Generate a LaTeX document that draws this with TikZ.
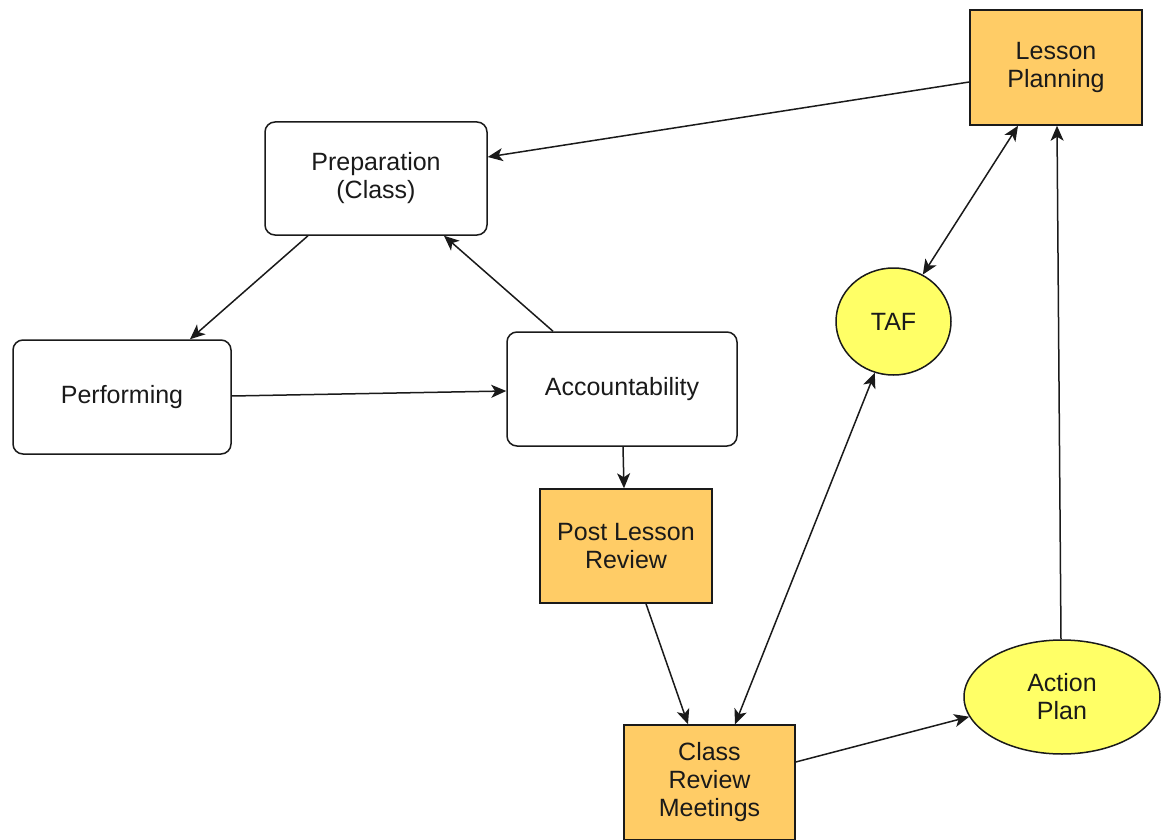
\documentclass[tikz,border=0pt]{standalone}
\usepackage{fontspec}
\setmainfont{Liberation Sans}
\usetikzlibrary{arrows.meta,shapes.geometric}
\definecolor{boxorange}{HTML}{FFCC66}
\definecolor{ovalyellow}{HTML}{FFFF66}
\definecolor{linegrey}{HTML}{1A1A1A}
\tikzset{
  base/.style={draw=linegrey, line width=1.5pt, inner sep=0pt, align=center,
    font=\fontsize{25}{28}\selectfont, text=linegrey},
  roundbox/.style={base, rectangle, rounded corners=10pt, fill=white},
  orangebox/.style={base, rectangle, fill=boxorange},
  yellowoval/.style={base, ellipse, fill=ovalyellow},
  conn/.style={draw=linegrey, line width=1.5pt, -{Stealth[length=15pt,width=13pt,inset=4pt]}},
  dconn/.style={draw=linegrey, line width=1.5pt, {Stealth[length=15pt,width=13pt,inset=4pt]}-{Stealth[length=15pt,width=13pt,inset=4pt]}}
}
\begin{document}
\begin{tikzpicture}[x=1pt,y=-1pt]
\useasboundingbox[fill=white] (0,0) rectangle (1163,840);

\node[orangebox, minimum width=172pt, minimum height=115pt] (lp) at (1056,67.5) {Lesson\\Planning};
\node[roundbox, minimum width=222pt, minimum height=113pt] (prep) at (376,178.5) {Preparation\\(Class)};
\node[roundbox, minimum width=218pt, minimum height=114pt] (perf) at (122,397) {Performing};
\node[roundbox, minimum width=230pt, minimum height=114pt] (acc) at (622,389) {Accountability};
\node[orangebox, minimum width=172pt, minimum height=114pt] (plr) at (626,546) {Post Lesson\\Review};
\node[orangebox, minimum width=171pt, minimum height=115pt] (crm) at (709.5,782.5) {Class\\Review\\Meetings};
\node[yellowoval, minimum width=115pt, minimum height=107pt] (taf) at (893.5,321.5) {TAF};
\node[yellowoval, minimum width=196pt, minimum height=114pt] (ap) at (1062,697) {Action\\Plan};

\draw[conn] ([yshift=-14.5pt]lp.west) -- ([yshift=21.5pt]prep.east);
\draw[conn] ([xshift=-68pt]prep.south) -- ([xshift=68pt]perf.north);
\draw[conn] ([xshift=-69pt]acc.north) -- ([xshift=68pt]prep.south);
\draw[conn] ([yshift=1pt]perf.east) -- ([yshift=-2pt]acc.west);
\draw[conn] ([xshift=1pt]acc.south) -- ([xshift=-2pt]plr.north);
\draw[conn] ([xshift=20pt]plr.south) -- ([xshift=-21.5pt]crm.north);
\draw[dconn] (taf.250) -- ([xshift=25.5pt]crm.north);
\draw[dconn] (taf.58) -- ([xshift=-38pt]lp.south);
\draw[conn] ([yshift=20.5pt]crm.east) -- (ap.192.6);
\draw[conn] ([xshift=-1pt]ap.north) -- ([xshift=1pt]lp.south);
\end{tikzpicture}
\end{document}
